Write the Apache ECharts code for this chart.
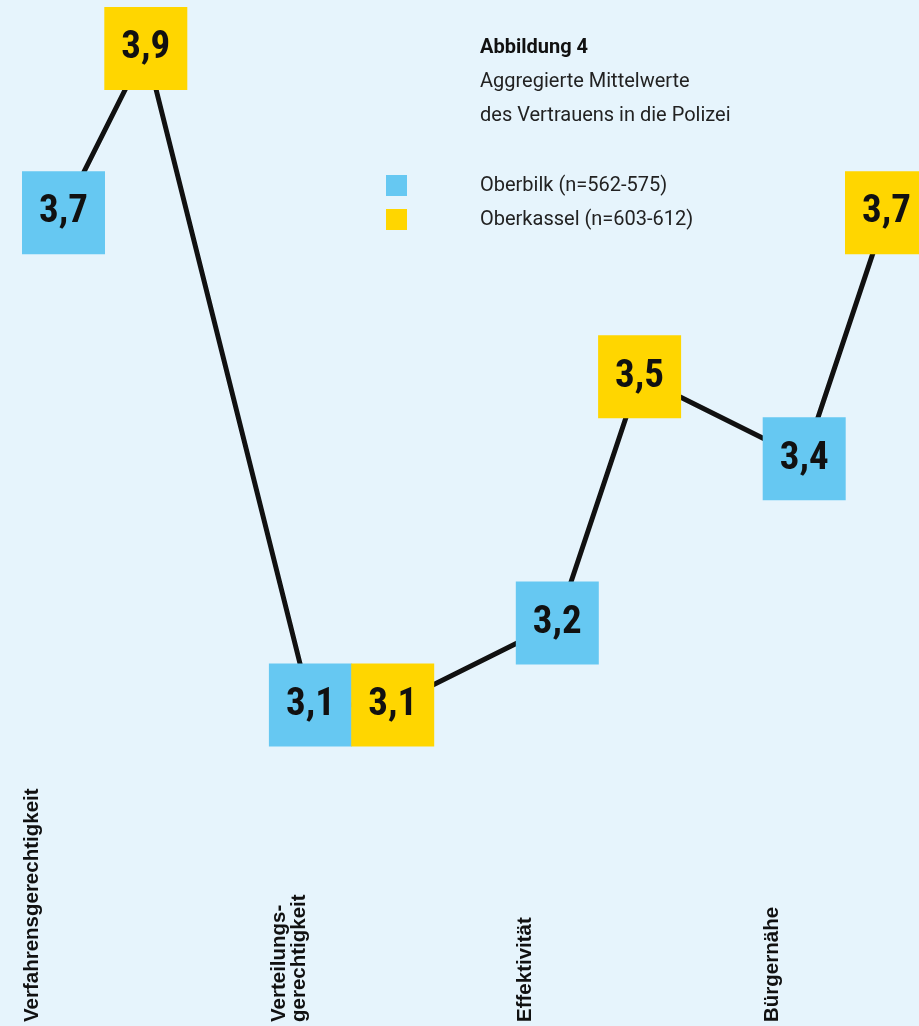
<!DOCTYPE html>
<html lang="de">
<head>
    <meta charset="UTF-8">
    <title>Vertrauen in die Polizei</title>
    <script src="https://cdn.jsdelivr.net/npm/echarts@6/dist/echarts.min.js"></script>
    <style>
        body {
            margin: 0;
            padding: 0;
            background: #e6f4fc;
        }
        #box {
            width: 919px;
            height: 1026px;
        }
    </style>
</head>
<body>
<div id="box"></div>
<script>
    // Daten
    var categories = ['Verfahrensgerechtigkeit', 'Verteilungs-\ngerechtigkeit', 'Effektivität', 'Bürgernähe'];
    var oberbilk = [3.7, 3.1, 3.2, 3.4];
    var oberkassel = [3.9, 3.1, 3.5, 3.7];
    var seriesNames = ['Oberbilk (n=562-575)', 'Oberkassel (n=603-612)'];

    var blue = '#66c8f2';
    var yellow = '#ffd600';
    var font = 'Roboto, "Noto Sans", sans-serif';

    // jede Kategorie belegt drei Plätze: Oberbilk, Oberkassel, Lücke
    var blueData = oberbilk.map(function (v, i) { return [i * 3, v]; });
    var yellowData = oberkassel.map(function (v, i) { return [i * 3 + 1, v]; });
    var lineData = [];
    for (var i = 0; i < categories.length; i++) {
        lineData.push(blueData[i], yellowData[i]);
    }

    var valueLabel = {
        show: true,
        position: 'inside',
        color: '#111',
        fontFamily: '"Liberation Sans Narrow", "Roboto Condensed", Roboto, sans-serif',
        fontWeight: 'bold',
        fontSize: 39,
        formatter: function (p) {
            return String(p.value[1].toFixed(1)).replace('.', ',');
        }
    };

    var myChart = echarts.init(document.getElementById('box'));
    myChart.setOption({
        backgroundColor: '#e6f4fc',
        animation: false,
        title: {
            text: 'Abbildung 4',
            subtext: 'Aggregierte Mittelwerte\ndes Vertrauens in die Polizei',
            left: 480,
            top: 31,
            padding: 0,
            itemGap: 0,
            textStyle: {
                fontFamily: font,
                fontWeight: 'bold',
                fontSize: 20,
                color: '#111',
                lineHeight: 34
            },
            subtextStyle: {
                fontFamily: font,
                fontSize: 20,
                color: '#222',
                lineHeight: 34
            }
        },
        legend: {
            data: seriesNames,
            orient: 'vertical',
            left: 386,
            top: 175,
            padding: 0,
            itemWidth: 21,
            itemHeight: 21,
            itemGap: 13,
            icon: 'rect',
            textStyle: {
                fontFamily: font,
                fontSize: 20,
                color: '#222',
                padding: [0, 0, 0, 68]
            },
            selectedMode: false
        },
        grid: [
            {left: 63.5, width: 823, top: 48.5, height: 656.5},
            {left: 22, width: 823, top: 1022, height: 2}
        ],
        xAxis: [
            {
                type: 'value', gridIndex: 0, min: 0, max: 10,
                show: false
            },
            {
                type: 'value', gridIndex: 1, min: 0, max: 10, interval: 3,
                position: 'top',
                axisLine: {show: false},
                axisTick: {show: false},
                splitLine: {show: false},
                axisLabel: {
                    rotate: 90,
                    margin: 0,
                    showMaxLabel: false,
                    verticalAlign: 'top',
                    align: 'left',
                    fontFamily: '"Liberation Sans", Arial, sans-serif',
                    fontWeight: 'bold',
                    fontSize: 20.5,
                    lineHeight: 20,
                    color: '#111',
                    formatter: function (v) {
                        return categories[v / 3] || '';
                    }
                }
            }
        ],
        yAxis: [
            {type: 'value', gridIndex: 0, min: 3.1, max: 3.9, show: false},
            {type: 'value', gridIndex: 1, show: false}
        ],
        series: [
            {
                type: 'line',
                data: lineData,
                symbol: 'none',
                lineStyle: {color: '#111', width: 5},
                z: 1
            },
            {
                name: seriesNames[0],
                type: 'scatter',
                data: blueData,
                symbol: 'rect',
                symbolSize: 83,
                itemStyle: {color: blue, opacity: 1},
                label: valueLabel,
                z: 2
            },
            {
                name: seriesNames[1],
                type: 'scatter',
                data: yellowData,
                symbol: 'rect',
                symbolSize: 83,
                itemStyle: {color: yellow, opacity: 1},
                label: valueLabel,
                z: 2
            }
        ]
    });
</script>
</body>
</html>
